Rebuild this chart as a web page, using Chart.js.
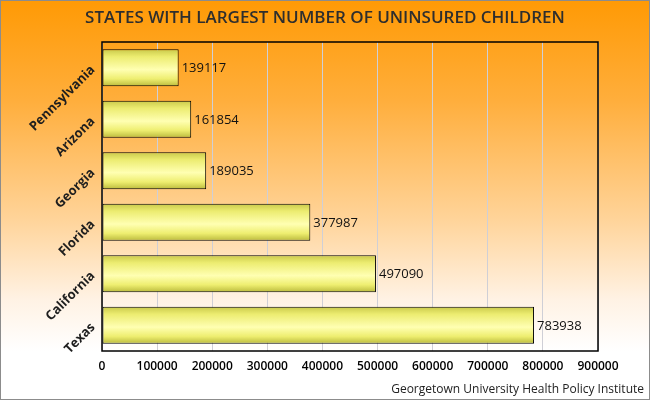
<!DOCTYPE html>
<html>
<head>
<meta charset="utf-8">
<script src="https://cdn.jsdelivr.net/npm/chart.js@4/dist/chart.umd.min.js"></script>
<style>
html,body{margin:0;padding:0;}
body{width:650px;height:400px;overflow:hidden;}
#wrap{position:relative;width:648px;height:398px;border:1px solid #8c8c8c;
background:linear-gradient(to bottom,#ff9a05 0%,#ffae3c 25%,#ffd49a 55%,#fff2e4 75%,#ffffff 88%,#ffffff 100%);}
canvas{display:block;}
</style>
</head>
<body>
<div id="wrap"><canvas id="c" width="648" height="398"></canvas></div>
<script>
const titleText = 'STATES WITH LARGEST NUMBER OF UNINSURED CHILDREN';
const sourceText = 'Georgetown University Health Policy Institute';
const states = ['Pennsylvania','Arizona','Georgia','Florida','California','Texas'];
const uninsured = [139117,161854,189035,377987,497090,783938];
const xTicks = [0,100000,200000,300000,400000,500000,600000,700000,800000,900000];

const BAR_FRAC = 0.72;

function barGradient(ctx){
  const chart = ctx.chart;
  const ys = chart.scales && chart.scales.y;
  if(!ys || ctx.dataIndex === undefined) return '#ffff90';
  const c = ys.getPixelForValue(ctx.dataIndex);
  const h = (ys.height / states.length) * BAR_FRAC / 2;
  if(!isFinite(c)) return '#ffff90';
  const g = chart.ctx.createLinearGradient(0, c - h, 0, c + h);
  g.addColorStop(0, '#c9c94a');
  g.addColorStop(0.2, '#ecec70');
  g.addColorStop(0.55, '#ffffb2');
  g.addColorStop(0.8, '#eeee70');
  g.addColorStop(1, '#baba3c');
  return g;
}

const extras = {
  id: 'extras',
  afterDatasetsDraw(chart){
    const {ctx, chartArea: a} = chart;
    ctx.save();
    ctx.strokeStyle = '#000';
    ctx.lineWidth = 1.5;
    ctx.strokeRect(a.left, a.top, a.right - a.left, a.bottom - a.top);
    const meta = chart.getDatasetMeta(0);
    ctx.font = '13px "Open Sans"';
    ctx.fillStyle = '#111';
    ctx.textAlign = 'left';
    ctx.textBaseline = 'middle';
    meta.data.forEach((el, i) => {
      ctx.fillText(String(uninsured[i]), el.x + 3, el.y + 1);
    });
    ctx.restore();
  },
  afterDraw(chart){
    const ctx = chart.ctx;
    ctx.save();
    ctx.textBaseline = 'middle';
    ctx.fillStyle = '#2e2e2e';
    ctx.textAlign = 'center';
    ctx.font = '600 17px "Open Sans"';
    ctx.fillText(titleText, chart.width / 2, 17);
    ctx.fillStyle = '#222';
    ctx.textAlign = 'right';
    ctx.font = '12px "Open Sans"';
    ctx.fillText(sourceText, chart.width - 5, 389);
    ctx.restore();
  }
};

new Chart(document.getElementById('c'), {
  type: 'bar',
  data: {
    labels: states,
    datasets: [{
      data: uninsured,
      backgroundColor: barGradient,
      borderColor: '#000',
      borderWidth: 1,
      borderSkipped: false,
      barPercentage: BAR_FRAC,
      categoryPercentage: 1.0
    }]
  },
  options: {
    indexAxis: 'y',
    responsive: false,
    animation: false,
    devicePixelRatio: 1,
    layout: {padding: {left: 0, right: 51, top: 41, bottom: 22}},
    plugins: {
      legend: {display: false},
      tooltip: {enabled: false},
      title: {display: false}
    },
    scales: {
      x: {
        min: 0,
        max: 900000,
        afterBuildTicks(scale){ scale.ticks = xTicks.map(v => ({value: v})); },
        afterFit(scale){ scale.height = 26; },
        ticks: {
          color: '#000',
          font: {family: '"Open Sans"', size: 12, weight: '600'},
          callback: v => String(v),
          maxRotation: 0,
          padding: 8
        },
        grid: {color: '#cfcfd6', drawTicks: false, lineWidth: 1},
        border: {display: false}
      },
      y: {
        afterFit(scale){ scale.width = 101; },
        ticks: {
          color: '#1e1e1e',
          font: {family: '"Open Sans"', size: 13, weight: '700'},
          minRotation: 45,
          maxRotation: 45,
          padding: 9
        },
        grid: {display: false, drawTicks: false},
        border: {display: false}
      }
    }
  },
  plugins: [extras]
});
</script>
</body>
</html>
